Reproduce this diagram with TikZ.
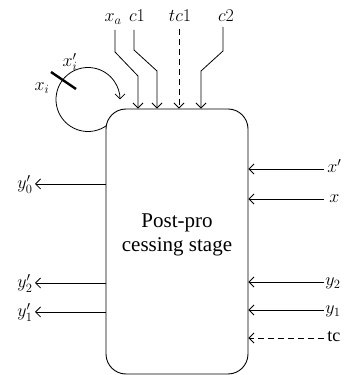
\RequirePackage{fix-cm}
\documentclass[tikz,border=0pt]{standalone}
\usepackage{fontspec}
\setmainfont{Liberation Serif}
\usetikzlibrary{arrows.meta}
\begin{document}
\begin{tikzpicture}[x=1pt,y=1pt,
  line width=0.8pt,
  arr/.style={-{Straight Barb[length=5pt,width=10pt]}},
  dsh/.style={dash pattern=on 6pt off 4pt},
  lbl/.style={inner sep=0pt,font=\fontsize{18}{20}\selectfont},
  stage/.style={draw,line width=0.9pt,rounded corners=20pt,minimum width=142pt,minimum height=265pt,inner sep=0pt}]
\useasboundingbox (0,0) rectangle (345,375);
% main block
\node[stage] (box) at (177,133.5) {};
\node[align=center,inner sep=0pt,font=\fontsize{21}{24}\selectfont] (txt) at (177,140) {Post-pro\\cessing stage};
% top labels
\node[lbl,anchor=base] (xa) at (113,353) {$x_a$};
\node[lbl,anchor=base] (c1) at (137,353) {$c1$};
\node[lbl,anchor=base] (tc1) at (180,353) {$tc1$};
\node[lbl,anchor=base] (c2) at (226,353) {$c2$};
\coordinate (xa0) at (115,345);
\coordinate (c10) at (134,345);
\coordinate (tc10) at (179,346);
\coordinate (c20) at (223,348);
\draw[arr] (xa0) -- (115,323) -- (138,299) -- (138,0 |- box.north);
\draw[arr] (c10) -- (134,325) -- (157,304) -- (157,0 |- box.north);
\draw[arr,dsh] (tc10) -- (179,0 |- box.north);
\draw[arr] (c20) -- (223,324) -- (201,304) -- (201,0 |- box.north);
% self loop
\coordinate (lc) at (88,275.5);
\draw[arr] ([shift={(-55:32)}]lc) arc[start angle=-55,end angle=-360,radius=32];
\coordinate (t1) at (51,303);
\coordinate (t2) at (76,286);
\draw[line width=2.4pt] (t1) -- (t2);
\node[lbl] (xip) at (70,313) {$x_i'$};
\node[lbl] (xi) at (42,287) {$x_i$};
% left outputs
\node[lbl,anchor=base east] (y0p) at (33,186) {$y_0'$};
\node[lbl,anchor=base east] (y2p) at (33,87) {$y_2'$};
\node[lbl,anchor=base east] (y1p) at (33,58) {$y_1'$};
\draw[arr] (box.west |- 0,191) -- ([xshift=2pt]y0p.east |- 0,191);
\draw[arr] (box.west |- 0,92) -- ([xshift=2pt]y2p.east |- 0,92);
\draw[arr] (box.west |- 0,63) -- ([xshift=2pt]y1p.east |- 0,63);
% right inputs
\node[lbl,anchor=base west] (xp) at (327,202) {$x'$};
\node[lbl,anchor=base west] (xx) at (329,172) {$x$};
\node[lbl,anchor=base west] (y2) at (325,89) {$y_2$};
\node[lbl,anchor=base west] (y1) at (325,61) {$y_1$};
\node[lbl,anchor=base west] (tc) at (327,33) {tc};
\draw[arr] (324,206) -- (box.east |- 0,206);
\draw[arr] (324,176) -- (box.east |- 0,176);
\draw[arr] (324,93) -- (box.east |- 0,93);
\draw[arr] (324,65) -- (box.east |- 0,65);
\draw[arr,dsh] (324,37) -- (box.east |- 0,37);
\end{tikzpicture}
\end{document}
